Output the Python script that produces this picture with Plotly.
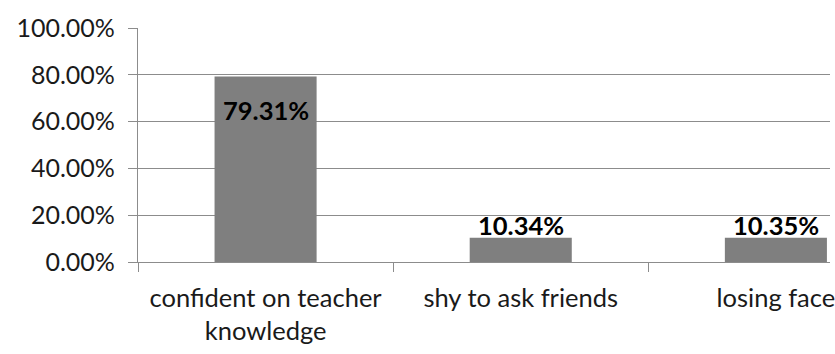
import plotly.graph_objects as go

categories = ["confident on teacher<br>knowledge", "shy to ask friends", "losing face"]
values = [0.7931, 0.1034, 0.1035]
labels = ["79.31%", "10.34%", "10.35%"]
ytick_vals = [0, 0.2, 0.4, 0.6, 0.8, 1.0]
ytick_text = ["0.00%", "20.00%", "40.00%", "60.00%", "80.00%", "100.00%"]

FONT = "Lato"
fig = go.Figure()
fig.add_trace(go.Bar(
    x=categories, y=values,
    marker=dict(color="#7f7f7f", line=dict(width=0)),
    width=0.4,
))

annotations = []
for c, v, t in zip(categories, values, labels):
    if v > 0.3:
        annotations.append(dict(x=c, y=v, text="<b>%s</b>" % t, showarrow=False,
                                yanchor="top", yshift=-17,
                                font=dict(family=FONT, size=25.5, color="#000000")))
    else:
        annotations.append(dict(x=c, y=v, text="<b>%s</b>" % t, showarrow=False,
                                yanchor="bottom", yshift=-4,
                                font=dict(family=FONT, size=25.5, color="#000000")))

fig.update_layout(
    width=835, height=354,
    margin=dict(l=138, r=0, t=28, b=92),
    paper_bgcolor="white", plot_bgcolor="white",
    showlegend=False,
    bargap=0.6,
    annotations=annotations,
    font=dict(family=FONT, size=25, color="#000000"),
)
fig.update_xaxes(
    type="category",
    range=[-0.5, -0.5 + 697 / 257],
    tickson="boundaries",
    ticks="outside", ticklen=9, tickcolor="#8c8c8c", tickwidth=1.3,
    showline=True, linecolor="#8c8c8c", linewidth=1.3,
    showgrid=False,
    tickfont=dict(family=FONT, size=25.5, color="#1a1a1a"),
    ticklabelstandoff=13,
)
fig.update_yaxes(
    range=[0, 1.0],
    tickvals=ytick_vals, ticktext=ytick_text,
    ticks="outside", ticklen=9, tickcolor="#8c8c8c", tickwidth=1.3,
    showline=True, linecolor="#8c8c8c", linewidth=1.3,
    showgrid=True, gridcolor="#8c8c8c", gridwidth=1.3,
    zeroline=False,
    tickfont=dict(family=FONT, size=25, color="#1a1a1a"),
    ticklabelstandoff=8,
)
fig.write_html("out.html")
